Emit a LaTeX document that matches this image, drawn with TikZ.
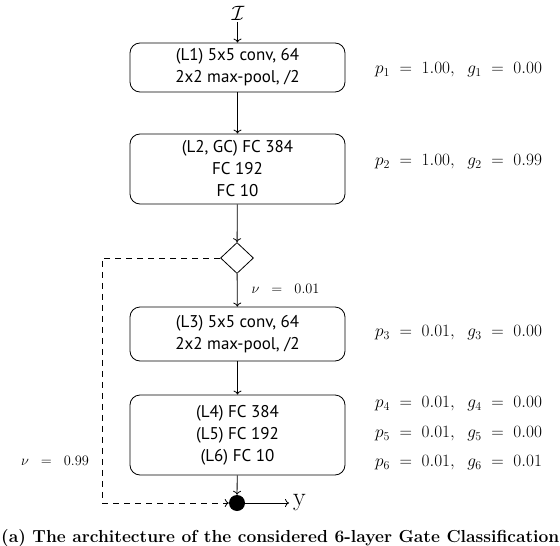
\documentclass[tikz,border=0pt]{standalone}
\usepackage{amsmath}
\usepackage{fontspec}
\newfontfamily\boxfont{PT Sans}
\usetikzlibrary{shapes.geometric,arrows.meta}
\begin{document}
\begin{tikzpicture}[x=1pt,y=-1pt,
  layer/.style={draw,line width=0.8pt,rounded corners=10pt,minimum width=215pt,align=center,inner sep=0pt,font=\boxfont\fontsize{17}{22}\selectfont},
  conn/.style={line width=0.8pt,-{To[length=4pt,width=8pt]}},
  dashconn/.style={line width=0.8pt,dash pattern=on 6pt off 5pt},
  val/.style={anchor=west,inner sep=0pt,font=\fontsize{18.5}{20}\selectfont},
  nulab/.style={inner sep=0pt,font=\fontsize{15.5}{18}\selectfont},
  gate/.style={draw,line width=0.8pt,diamond,aspect=1.05,minimum width=33pt,minimum height=31pt,inner sep=0pt}]
\useasboundingbox (0,0) rectangle (560,546);
\node[inner sep=1pt,font=\fontsize{21}{22}\selectfont] (in) at (238,13.5) {$\mathcal{I}$};
\node[layer,minimum height=49pt] (l1) at (237.5,67.5) {(L1) 5x5 conv, 64\\2x2 max-pool, /2};
\node[layer,minimum height=70pt] (l2) at (237.5,169) {(L2, GC) FC 384\\FC 192\\FC 10};
\node[gate] (g) at (237,258) {};
\node[layer,minimum height=54pt] (l3) at (237.5,334) {(L3) 5x5 conv, 64\\2x2 max-pool, /2};
\node[layer,minimum height=80pt] (l4) at (237.5,435) {(L4) FC 384\\(L5) FC 192\\(L6) FC 10};
\node[circle,fill,inner sep=0pt,minimum size=16pt] (dot) at (237,503) {};
\node[inner sep=0pt,font=\fontsize{26}{28}\selectfont,anchor=west] (y) at (293,503) {y};
\coordinate (c1) at (102,258);
\coordinate (c2) at (102,503);
\draw[conn] (in.south -| l1.north) -- (l1.north);
\draw[conn] (l1) -- (l2);
\draw[conn] (l2) -- (g);
\draw[conn] (g) -- node[right,xshift=14pt,yshift=1pt,nulab] {$\nu\;\;=\;\;0.01$} (l3);
\draw[conn] (l3) -- (l4);
\draw[conn] (l4) -- (dot);
\draw[conn,shorten >=4pt] (dot) -- (dot -| y.west);
\draw[dashconn] (g.west) -- (c1) -- (c2);
\draw[dashconn,-{To[length=4pt,width=8pt]}] (c2) -- (dot);
\node[nulab] (nu2) at (55,461) {$\nu\;\;=\;\;0.99$};
\node[val] (v1) at (375,70) {$p_1 \;=\; 1.00,\;\; g_1 \;=\; 0.00$};
\node[val] (v2) at (375,162) {$p_2 \;=\; 1.00,\;\; g_2 \;=\; 0.99$};
\node[val] (v3) at (375,333) {$p_3 \;=\; 0.01,\;\; g_3 \;=\; 0.00$};
\node[val] (v4) at (375,404) {$p_4 \;=\; 0.01,\;\; g_4 \;=\; 0.00$};
\node[val] (v5) at (375,434) {$p_5 \;=\; 0.01,\;\; g_5 \;=\; 0.00$};
\node[val] (v6) at (375,463) {$p_6 \;=\; 0.01,\;\; g_6 \;=\; 0.01$};
\node[anchor=west,inner sep=0pt,font=\bfseries\fontsize{17.4}{19}\selectfont] (cap) at (1,538) {(a) The architecture of the considered 6-layer Gate Classification};
\end{tikzpicture}
\end{document}
